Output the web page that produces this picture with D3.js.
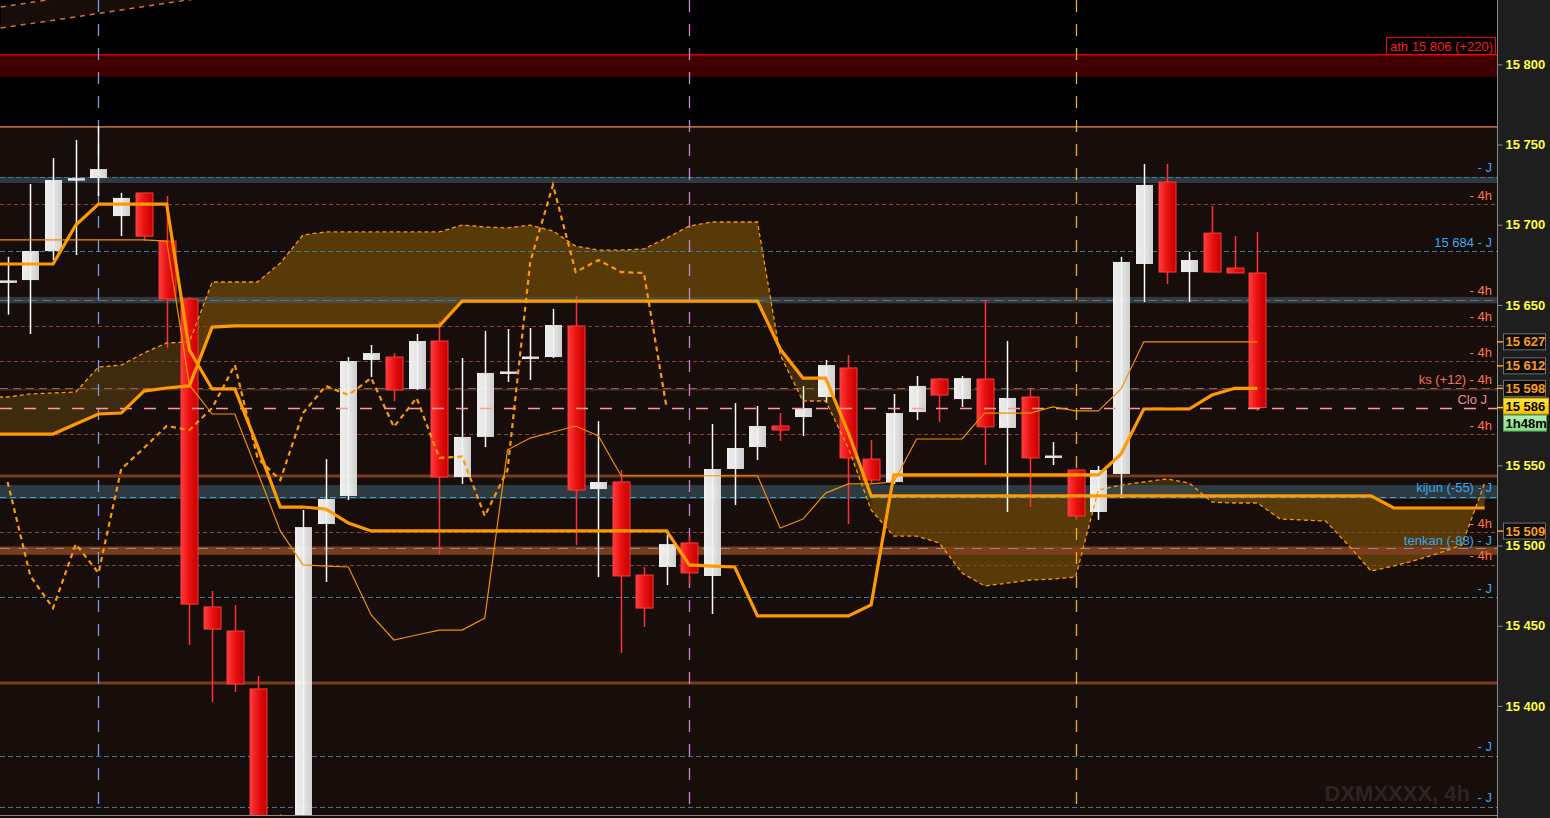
<!DOCTYPE html>
<html><head><meta charset="utf-8">
<script src="https://cdn.jsdelivr.net/npm/d3@7/dist/d3.min.js"></script>
<style>html,body{margin:0;padding:0;background:#1e1e1e;overflow:hidden}svg{display:block}</style>
</head><body><svg id="c" width="1550" height="818"></svg>
<script>
// ---------- DATA ----------
const opens  = [15664,15665.5,15683.6,15728,15729.1,15705.4,15719.8,15689.8,15653.7,15461.7,15446.7,15410.6,15325,15318,15513.4,15530.9,15615.7,15617.5,15597.6,15627.5,15542.7,15567.7,15607.6,15616.9,15617.5,15636.9,15535.2,15539.6,15481.6,15486.6,15501.6,15481.0,15547.7,15561.4,15574.5,15580.1,15592.6,15610.7,15553.9,15539.6,15583.2,15603.8,15591.3,15603.8,15573.3,15592.6,15555.2,15547.1,15520.9,15544.6,15675.5,15726.6,15670.5,15694.8,15673.0,15669.9];
const highs  = [15680,15725.4,15741.6,15752.8,15761.5,15719.8,15720,15717.9,15654.9,15471.7,15462.9,15418.7,15332.6,15522.1,15553.9,15617.5,15625.0,15620.0,15631.9,15640.0,15616.9,15633.8,15635.0,15635.6,15647.5,15655.6,15577.6,15547.1,15486.6,15506.6,15505.9,15575.8,15588.8,15587.0,15582.6,15599.4,15615.7,15618.8,15565.8,15594.5,15605.7,15604.4,15605.7,15653.1,15627.5,15597.6,15564.5,15547.6,15549.6,15679.9,15737.9,15737.9,15683.0,15711.7,15692.9,15695.5];
const lows   = [15644,15631.9,15678.0,15681.1,15717.9,15692.9,15689.8,15623.1,15438.0,15402.4,15408.7,15300,15290,15310,15477.3,15528.4,15605.1,15590.1,15597.0,15494.1,15538.4,15561.4,15602.0,15603.2,15616.9,15500.3,15480.4,15433.0,15449.2,15475.4,15476.6,15457.3,15525.3,15553.3,15565.2,15568.3,15588.8,15513.4,15539.0,15538.4,15578.3,15577.0,15586.4,15550.2,15520.9,15524.0,15550.2,15516.0,15516.0,15529.6,15651.8,15663.0,15651.8,15670.5,15669.9,15583.9];
const closes = [15665,15683.6,15727.9,15728.5,15734.7,15716.7,15692.9,15653.7,15463.5,15447.9,15413.7,15322,15305,15511.5,15529.0,15615.0,15620.0,15597.0,15627.5,15542.7,15567.7,15607.6,15607.9,15617.2,15637.5,15534.6,15539.6,15481.0,15461.0,15500.9,15482.9,15547.7,15560.8,15574.5,15572.0,15585.7,15612.5,15554.6,15540.8,15582.6,15599.5,15593.8,15604.4,15574.0,15592.0,15554.6,15555.5,15518.4,15547.1,15676.8,15724.8,15670.5,15678.0,15670.5,15669.9,15586];

// indicator series start at bar index -1
const tenkan = [15690.5,15690.5,15690.5,15690.5,15690.5,15690.5,15690.5,15690.5,15689.8,15600.1,15582.0,15582.0,15545.8,15509.1,15487.9,15487.2,15486.6,15456.7,15441.1,15444.2,15447.3,15447.3,15454.8,15559.6,15567.0,15570.8,15574.5,15568.3,15543.5,15543.5,15543.5,15543.5,15543.5,15543.5,15543.5,15510.9,15516.5,15532.7,15538.4,15538.4,15539.6,15566.4,15566.4,15566.4,15582.6,15582.6,15582.6,15586.4,15583.9,15583.9,15597.6,15627,15627,15627,15627,15627,15627];
const kijun  = [15675.5,15675.5,15675.5,15675.5,15699.8,15712.9,15712.9,15712.9,15712.9,15621.9,15597.6,15597.6,15562.0,15524.0,15524.0,15522.8,15514.0,15509.1,15509.1,15509.1,15509.1,15509.1,15509.1,15509.1,15509.1,15509.1,15509.1,15509.1,15509.1,15509.1,15509.1,15487.9,15487.2,15486.6,15456.1,15456.1,15456.1,15456.1,15456.1,15462.9,15544.0,15544.0,15544.0,15544.0,15544.0,15544.0,15544.0,15544.0,15544.0,15544.0,15557.1,15585.1,15585.1,15585.1,15593.8,15598,15598];
const spanA  = [15592.6,15592.6,15594.5,15595.1,15595.7,15611.3,15612.5,15620.0,15626.3,15626.9,15664.3,15664.3,15664.3,15676.1,15693.6,15695.5,15695.5,15695.5,15695.5,15695.5,15695.5,15699.8,15698.6,15698.0,15699.8,15696.1,15686.7,15684.2,15684.2,15684.9,15691.7,15699.2,15701.7,15701.7,15701.7,15618.8,15590.1,15590.1,15560.8,15522.2,15505.9,15505.9,15501.6,15482.9,15474.8,15476.6,15478.5,15479.1,15480.4,15534.6,15537.7,15539.6,15541.5,15539.0,15527.1,15526.5,15526.5,15516.5,15515.9,15515.3,15500.3,15484.1,15487.2,15491.0,15495.3,15500.3,15539.0];
const spanB  = [15569.5,15569.5,15569.5,15569.5,15575.8,15582.0,15582.6,15596.3,15598.2,15599.5,15636.2,15636.9,15636.9,15636.9,15636.9,15636.9,15636.9,15636.9,15636.9,15636.9,15636.9,15652.4,15652.4,15652.4,15652.4,15652.4,15652.4,15652.4,15652.4,15652.4,15652.4,15652.4,15652.4,15652.4,15652.4,15622.5,15604.4,15604.4,15570.2,15531,15531,15531,15531,15531,15531,15531,15531,15531,15531,15531,15531,15531,15531,15531,15531,15531,15531,15531,15531,15531,15531,15531,15523.4,15523.4,15523.4,15523.4,15523.4];
// cloud runs: [fromBar, toBar, bullish flag]
const cloudRuns = [[-1,8,0],[8,34,1],[34,38,0],[38,48,1],[48,53,0],[53,65,1]];
const chikouShift = 26;

const channelUpper = [[-0.3,15835.7],[2.5,15841.7]];
const channelLower = [[-0.3,15822.6],[8.5,15841.3]];

const levels4h = [15712.9,15653.1,15636.9,15615.0,15569.5,15508.4,15487.9];
const levelsJ = [15729.8,15683.6,15467.9,15368.8,15337.0];
const labelsJ = ["- J","15 684 - J","- J","- J","- J"];
const ksLevel = 15598, closeLevel = 15586, kijunJ = 15530.3, tenkanJ = 15497.8;
const tealBands = [[15729.8,15726.0],[15655.0,15651.0],[15537.7,15529.0]];
const brownBands = [[15499.4,15494.2]];
const solidLevels = [15543.3,15414.3];
const athLevel = 15806, athBandLow = 15792.4, topZone = 15761;
const axisTicks = [15400,15450,15500,15550,15600,15650,15700,15750,15800];
const hiddenTickLabels = [15600];
const axisBoxes = [15627,15612,15598,15509];
const daySeparators = [4,30,47];
const sepColors = ["#7a9ce0","#d080d0","#f0b020"];

// ---------- CHART ----------
const PR = 1497, PB = 815;
const svg = d3.select("#c");
const y = d3.scaleLinear().domain([15332.0,15840.1]).range([PB,0]);
const x = d3.scaleLinear().domain([0,55]).range([7.6,1257.4]);
const xL = (d,i)=>x(i-1);
const fmt = v => d3.format(",")(v).replace(/,/g," ");
const font = "Liberation Sans, Arial, sans-serif";

const defs = svg.append("defs");
function grad(id, stops, vertical){
  const g = defs.append("linearGradient").attr("id",id).attr("x1",0).attr("y1",0).attr("x2",vertical?0:1).attr("y2",vertical?1:0);
  stops.forEach((c,k)=>g.append("stop").attr("offset",k/(stops.length-1)).attr("stop-color",c));
}
grad("wg",["#ffffff","#f4f4f4","#dedede"]);
grad("rg",["#ff3c3c","#e81010","#c40000"]);
grad("yg",["#ffe640","#ffc400"],true);
grad("gg",["#b0f0b0","#86de86"],true);
defs.append("clipPath").attr("id","pc").append("rect").attr("x",0).attr("y",0).attr("width",PR).attr("height",PB);

svg.append("rect").attr("width",1550).attr("height",818).attr("fill","#1e1e1e");
svg.append("rect").attr("width",PR).attr("height",818).attr("fill","#170d0b");
const plot = svg.append("g").attr("clip-path","url(#pc)");
plot.append("rect").attr("x",0).attr("y",0).attr("width",PR).attr("height",PB).attr("fill","#000");
plot.append("rect").attr("x",0).attr("y",y(topZone)).attr("width",PR).attr("height",PB-y(topZone)).attr("fill","#170d0b");

// channel at top-left
const chPoly = channelLower.concat(channelUpper.slice().reverse());
plot.append("path").attr("d",d3.line().x(d=>x(d[0])).y(d=>y(d[1]))(chPoly)+"Z").attr("fill","#170d0b");
[channelUpper,channelLower].forEach(c=>plot.append("path").attr("d",d3.line().x(d=>x(d[0])).y(d=>y(d[1]))(c))
  .attr("fill","none").attr("stroke","#e07028").attr("stroke-width",1.5).attr("stroke-dasharray","5,5"));

// ath band
plot.append("rect").attr("x",0).attr("y",y(athLevel)).attr("width",PR).attr("height",y(athBandLow)-y(athLevel)).attr("fill","#420000");
plot.append("line").attr("x1",0).attr("x2",PR).attr("y1",y(athLevel)).attr("y2",y(athLevel)).attr("stroke","#d80000").attr("stroke-width",1.5);
plot.append("line").attr("x1",0).attr("x2",PR).attr("y1",y(topZone)).attr("y2",y(topZone)).attr("stroke","#f08a50").attr("stroke-width",1.2);

// cloud
cloudRuns.forEach(r=>{
  const idx = d3.range(r[0]+1, r[1]+2);
  const ar = d3.area().x(j=>x(j-1)).y0(j=>y(spanB[j])).y1(j=>y(spanA[j]));
  plot.append("path").attr("d",ar(idx)).attr("fill", r[2] ? "#583a08" : "#3e2a0c");
});

// bands
tealBands.forEach(b=>plot.append("rect").attr("x",0).attr("width",PR).attr("y",y(b[0])).attr("height",y(b[1])-y(b[0])).attr("fill","rgb(62,88,104)").attr("opacity",0.6));
brownBands.forEach(b=>plot.append("rect").attr("x",0).attr("width",PR).attr("y",y(b[0])).attr("height",y(b[1])-y(b[0])).attr("fill","#7e4020").attr("opacity",0.92));
solidLevels.forEach(v=>plot.append("line").attr("x1",0).attr("x2",PR).attr("y1",y(v)).attr("y2",y(v)).attr("stroke","#7a3c1c").attr("stroke-width",3));

function hline(v,color,dash,w){
  plot.append("line").attr("x1",0).attr("x2",PR).attr("y1",Math.round(y(v))+0.5).attr("y2",Math.round(y(v))+0.5)
    .attr("stroke",color).attr("stroke-width",w||1).attr("stroke-dasharray",dash);
}
levels4h.forEach(v=>hline(v,"#8a4528","4,3"));
levelsJ.forEach(v=>hline(v,"#3a7c9c","5,3"));
hline(ksLevel,"#8a6658","8,5");
plot.append("line").attr("x1",0).attr("x2",PR).attr("y1",y(ksLevel)+1.5).attr("y2",y(ksLevel)+1.5).attr("stroke","#6a3a20").attr("stroke-width",1);
hline(kijunJ,"#3aa0d0","6,4");
hline(brownBands[0][0]-1.2,"#8c8c8c","10,8");
hline(15653.1,"#707070","8,6");

// day separators
daySeparators.forEach((d,k)=>plot.append("line").attr("x1",Math.round(x(d))+0.5).attr("x2",Math.round(x(d))+0.5).attr("y1",0).attr("y2",PB)
  .attr("stroke",sepColors[k]).attr("stroke-width",1.3).attr("stroke-dasharray","12,12"));

// candles
const bw = 17;
const cg = plot.append("g");
closes.forEach((c,i)=>{
  const o = opens[i], up = c >= o;
  const cx = Math.round(x(i))+0.5;
  cg.append("line").attr("x1",cx).attr("x2",cx).attr("y1",y(highs[i])).attr("y2",y(lows[i]))
    .attr("stroke", up ? "#ffffff" : "#ff3030").attr("stroke-width",1.5);
  const top = y(Math.max(o,c)), bot = y(Math.min(o,c));
  const h = Math.max(bot-top, 2.5);
  cg.append("rect").attr("x",cx-bw/2).attr("y",top-(h-(bot-top))/2).attr("width",bw).attr("height",h)
    .attr("fill", up ? "url(#wg)" : "url(#rg)").attr("stroke", up ? "none" : "#ff3a3a").attr("stroke-width",1)
    .attr("opacity", up ? 0.93 : 1);
});

// pink close line
hline(closeLevel,"#ff9a9a","12,12",1.3);

// indicator lines
const ln = arr => d3.line().x(xL).y(d=>y(d))(arr);
plot.append("path").attr("d",ln(tenkan)).attr("fill","none").attr("stroke","#f09000").attr("stroke-width",1.2);
plot.append("path").attr("d",ln(spanA)).attr("fill","none").attr("stroke","#ff9900").attr("stroke-width",1.3).attr("stroke-dasharray","4,3");
plot.append("path").attr("d",ln(spanB)).attr("fill","none").attr("stroke","#ff9900").attr("stroke-width",3.2);
plot.append("path").attr("d",ln(kijun)).attr("fill","none").attr("stroke","#ff9900").attr("stroke-width",3.2);
const chikou = closes.slice(chikouShift);
plot.append("path").attr("d",d3.line().x((d,i)=>x(i)).y(d=>y(d))(chikou)).attr("fill","none")
  .attr("stroke","#ff9900").attr("stroke-width",2.2).attr("stroke-dasharray","5,4");

// watermark (drawn under the labels)
svg.append("text").attr("x",1470).attr("y",801).attr("text-anchor","end").attr("fill","#2e2523")
  .attr("font-family",font).attr("font-weight","bold").attr("font-size",22).text("DXMXXXX, 4h");

// labels on the right of plot
const LX = 1492;
function lab(v,text,color){
  svg.append("text").attr("x",LX).attr("y",y(v)-4.5).attr("text-anchor","end").attr("fill",color)
    .attr("font-family",font).attr("font-size",13).text(text);
}
levels4h.forEach(v=>lab(v,"- 4h","#ff7448"));
levelsJ.forEach((v,k)=>lab(v,labelsJ[k],"#36a8f0"));
lab(ksLevel,"ks (+12) - 4h","#ff7448");
svg.append("text").attr("x",1487).attr("y",y(closeLevel)-4).attr("text-anchor","end").attr("fill","#e89090")
  .attr("font-family",font).attr("font-size",13).text("Clo J");
lab(kijunJ,"kijun (-55) - J","#36a8f0");
lab(tenkanJ,"tenkan (-88) - J","#36a8f0");

// ath box
svg.append("rect").attr("x",1386.5).attr("y",37.5).attr("width",109).attr("height",17).attr("fill","none").attr("stroke","#ff0000");
svg.append("text").attr("x",1390).attr("y",51).attr("fill","#ff1a1a").attr("font-family",font)
  .attr("font-size",13).text("ath 15 806 (+220)");

// axis
svg.append("line").attr("x1",PR+0.5).attr("x2",PR+0.5).attr("y1",0).attr("y2",818).attr("stroke","#8a8a8a");
svg.append("line").attr("x1",0).attr("x2",PR).attr("y1",PB+0.5).attr("y2",PB+0.5).attr("stroke","#8a8a8a");
const ax = svg.append("g").attr("transform",`translate(${PR+0.5},0)`)
  .call(d3.axisRight(y).tickValues(axisTicks).tickSize(5).tickPadding(3)
    .tickFormat(v => hiddenTickLabels.includes(v) ? "" : fmt(v)));
ax.select(".domain").remove();
ax.selectAll(".tick line").attr("stroke","#8a8a8a");
ax.selectAll(".tick text").attr("fill","#ffff3a").attr("font-family",font)
  .attr("font-weight","bold").attr("font-size",13);

axisBoxes.forEach(v=>{
  const yy = y(v);
  svg.append("line").attr("x1",PR).attr("x2",PR+6).attr("y1",yy).attr("y2",yy).attr("stroke","#ff9a1a").attr("stroke-width",1.5);
  svg.append("rect").attr("x",1503.5).attr("y",yy-8).attr("width",42).attr("height",16).attr("fill","#0b0b0b").attr("stroke","#6e6e6e");
  svg.append("text").attr("x",1505.5).attr("y",yy+4.6).attr("fill","#ff9a1a").attr("font-family",font).attr("font-weight","bold")
    .attr("font-size",13).text(fmt(v));
});
{
  const yy = y(closeLevel);
  svg.append("line").attr("x1",PR).attr("x2",PR+6).attr("y1",yy).attr("y2",yy).attr("stroke","#ffd000").attr("stroke-width",1.5);
  svg.append("rect").attr("x",1503.5).attr("y",yy-9.5).attr("width",45).attr("height",16).attr("fill","url(#yg)").attr("stroke","#c89a00");
  svg.append("text").attr("x",1505.5).attr("y",yy+3.2).attr("fill","#000").attr("font-family",font).attr("font-weight","bold")
    .attr("font-size",13).text(fmt(closeLevel));
  svg.append("rect").attr("x",1503.5).attr("y",yy+7.5).attr("width",43).attr("height",16).attr("fill","url(#gg)").attr("stroke","#5aa05a");
  svg.append("text").attr("x",1505.5).attr("y",yy+20).attr("fill","#000").attr("font-family",font).attr("font-weight","bold")
    .attr("font-size",13).text("1h48m");
}
</script></body></html>
